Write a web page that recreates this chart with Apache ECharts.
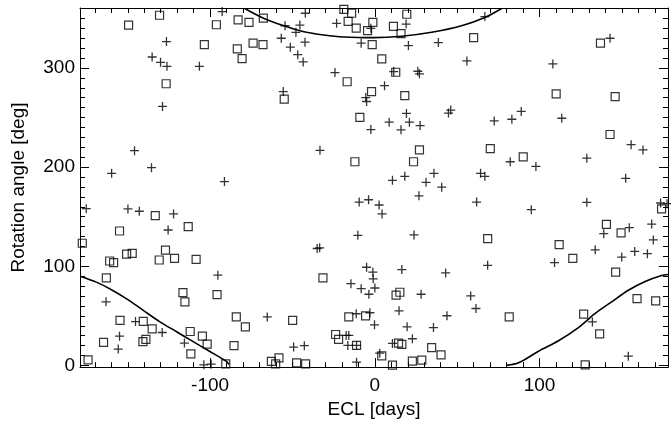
<!DOCTYPE html>
<html>
<head>
<meta charset="utf-8">
<script src="https://cdn.jsdelivr.net/npm/echarts@6/dist/echarts.min.js"></script>
<style>html,body{margin:0;padding:0;background:#fff}#c{width:671px;height:424px}</style>
</head>
<body>
<div id="c"></div>
<script>
// ---- data ----
var squareECL = [-130.7,-149.5,-96.2,-103.5,-126.7,-83.0,-76.4,-67.7,-18.8,-14.1,-16.2,-11.3,-4.4,-1.2,-73.9,-67.9,-83.5,-80.6,-1.6,-16.8,-2.0,-55.0,-9.1,-12.1,19.4,11.3,15.9,60.0,4.2,12.7,18.2,27.1,70.1,23.5,90.1,137.0,110.1,145.9,142.8,-133.3,-155.0,-113.3,-177.6,-127.1,-150.7,-147.3,-161.0,-158.6,-130.9,-121.6,-108.5,-163.0,-116.5,-115.3,-95.8,-154.7,-140.6,-135.2,-112.1,-104.7,-101.8,-164.7,-140.8,-139.0,-111.7,-174.1,-31.5,-84.1,-78.6,-49.9,-15.8,-5.6,-23.8,-22.0,-11.1,-85.5,-62.8,-58.2,-60.2,-47.5,-42.0,-90.5,68.5,12.9,15.2,81.6,14.4,16.4,34.5,40.2,4.2,22.8,28.5,10.7,174.1,140.6,149.5,111.9,120.2,146.2,159.2,170.5,126.8,136.5,127.7];
var squareAngle = [353.2,343.3,343.6,323.6,284.1,348.6,346.0,350.2,359.2,355.2,347.0,340.3,337.6,346.0,325.0,323.6,319.3,309.4,323.6,286.1,276.2,268.5,250.2,205.4,354.2,342.0,334.6,330.6,309.1,295.7,272.2,217.3,218.6,205.4,210.4,325.0,273.8,271.2,232.9,151.1,135.6,139.9,123.2,116.3,112.3,113.0,105.3,103.7,106.3,108.0,107.0,88.3,73.4,64.1,71.4,45.5,44.5,36.9,34.2,29.5,21.5,23.2,23.9,26.2,11.6,5.6,88.3,48.9,38.9,45.5,48.9,49.9,31.2,26.2,20.2,19.9,4.0,7.6,1.6,2.6,1.6,1.6,127.9,70.8,73.8,48.9,22.5,21.2,17.9,10.6,9.6,4.3,5.3,0.3,157.8,142.2,133.6,121.9,108.0,94.0,67.4,65.1,51.8,31.9,0.6];
var plusECL = [-92.7,-126.5,-135.2,-130.1,-126.2,-106.5,-128.9,-145.9,-135.6,-159.8,-91.3,-54.5,-45.5,-47.9,-42.2,-23.2,-2.4,-56.8,-42.4,-51.3,-46.8,-43.5,-8.3,-24.2,-5.5,-5.0,-55.6,-2.4,-33.3,19.0,66.8,20.4,38.6,55.9,11.5,26.1,27.1,5.9,19.2,46.1,44.7,8.7,15.9,21.0,27.5,72.5,83.2,88.9,82.2,10.7,18.2,35.9,31.1,40.6,64.2,66.8,142.8,108.1,113.5,155.6,162.8,97.8,128.7,152.3,-175.2,-149.9,-143.0,-122.2,-125.5,-95.3,-163.2,-145.3,-129.1,-115.6,-155.0,-155.8,-103.8,-99.4,-9.5,-3.8,-10.3,-35.0,-33.5,-5.0,-1.2,-1.0,-14.5,-8.3,-3.6,0.0,-65.3,-11.3,-3.0,-0.2,-15.8,-17.4,-16.4,-11.1,-49.3,-42.8,-11.1,26.8,2.6,4.4,61.8,23.8,68.5,16.4,43.0,28.1,58.2,61.4,14.7,43.8,19.6,35.6,22.8,10.7,3.0,95.0,128.7,173.5,177.4,139.0,154.5,168.1,169.1,133.8,109.1,149.9,157.8,165.5,132.1,153.9];
var plusAngle = [356.9,326.6,311.1,305.7,301.7,301.7,261.2,216.6,199.4,193.7,185.4,342.6,343.3,336.0,355.2,345.0,340.0,330.0,326.0,321.0,313.4,306.1,325.0,295.4,270.2,266.2,276.2,237.9,216.9,344.3,351.9,322.6,325.6,307.1,296.4,296.7,294.1,282.2,254.2,257.5,254.5,245.3,237.6,245.3,241.9,246.6,248.3,256.2,205.4,186.7,190.7,193.7,184.7,179.8,193.7,190.7,330.0,304.1,249.3,222.6,217.3,200.7,209.0,188.7,158.1,157.8,155.5,152.8,136.6,91.0,64.1,44.2,33.2,22.5,29.5,16.5,0.6,1.3,164.8,167.1,131.2,117.9,118.6,99.0,94.0,87.3,82.4,77.4,71.8,78.1,48.9,52.1,53.1,40.9,30.2,30.2,20.2,20.2,18.5,19.9,3.3,171.1,161.8,152.8,164.8,131.6,101.0,96.7,93.3,71.8,70.1,57.4,55.1,50.1,38.9,38.2,26.9,22.2,12.3,157.1,164.5,163.8,163.1,132.9,138.9,142.6,126.6,116.6,103.7,109.3,115.0,112.7,43.9,9.3];
var topCurveECL   = [-79.0,-67.3,-55.2,-43.0,-30.9,-18.8,-0.6,16.4,34.5,52.7,66.8,77.0];
var topCurveAngle = [360.0,350.0,342.6,336.6,333.3,331.3,330.6,332.0,336.0,342.6,350.9,360.0];
var leftCurveECL   = [-179.0,-169.1,-161.0,-150.9,-140.8,-130.7,-120.6,-110.5,-100.4,-90.3,-88.5];
var leftCurveAngle = [90.0,84.0,77.4,67.4,55.8,44.2,34.2,24.2,14.3,4.3,1.0];
var rightCurveECL   = [80.0,87.3,99.4,111.5,123.6,133.8,143.8,153.9,164.1,174.1,178.0];
var rightCurveAngle = [0.0,2.6,14.3,24.9,38.2,52.4,64.1,75.8,84.7,90.7,91.7];
var xMajorTicks = [-100, 0, 100];
var yMajorTicks = [0, 100, 200, 300];
var xRange = [-179, 178];
var yRange = [-1.7, 360.5];

function zip(a, b) { return a.map(function (v, i) { return [v, b[i]]; }); }
var xMinor = [], yMinor = [];
for (var t = -170; t <= 170; t += 10) xMinor.push(t);
for (var u = 0; u <= 360; u += 10) yMinor.push(u);

var FONT = 'Liberation Sans, Arial, Helvetica, sans-serif';
var black = '#000';

function xAx(pos, showLine, ticks, len, labels) {
  return {
    type: 'value', position: pos, min: xRange[0], max: xRange[1],
    axisLine: { show: showLine, onZero: false, lineStyle: { color: black, width: 1 } },
    axisTick: { show: true, inside: true, length: len, customValues: ticks, lineStyle: { color: black, width: 1 } },
    axisLabel: labels ? { show: true, customValues: xMajorTicks, color: black, fontSize: 19, fontFamily: FONT, margin: 9 } : { show: false },
    splitLine: { show: false },
    name: labels ? 'ECL [days]' : '', nameLocation: 'middle', nameGap: 25,
    nameTextStyle: { color: black, fontSize: 19, fontFamily: FONT }
  };
}
function yAx(pos, showLine, ticks, len, labels) {
  return {
    type: 'value', position: pos, min: yRange[0], max: yRange[1],
    axisLine: { show: showLine, onZero: false, lineStyle: { color: black, width: 1 } },
    axisTick: { show: true, inside: true, length: len, customValues: ticks, lineStyle: { color: black, width: 1 } },
    axisLabel: labels ? { show: true, customValues: yMajorTicks, color: black, fontSize: 19, fontFamily: FONT, margin: 5 } : { show: false },
    splitLine: { show: false },
    name: labels ? 'Rotation angle [deg]' : '', nameLocation: 'middle', nameGap: 52,
    nameTextStyle: { color: black, fontSize: 19, fontFamily: FONT }
  };
}

var chart = echarts.init(document.getElementById('c'), null, { renderer: 'canvas' });
chart.setOption({
  animation: false,
  backgroundColor: '#fff',
  grid: { left: 80, right: 3, top: 8, bottom: 52, containLabel: false },
  xAxis: [
    xAx('bottom', true, xMajorTicks, 9, true),
    xAx('top', true, xMajorTicks, 9, false),
    xAx('bottom', false, xMinor, 5, false),
    xAx('top', false, xMinor, 5, false)
  ],
  yAxis: [
    yAx('left', true, yMajorTicks, 9, true),
    yAx('right', true, yMajorTicks, 9, false),
    yAx('left', false, yMinor, 5, false),
    yAx('right', false, yMinor, 5, false)
  ],
  series: [
    { type: 'scatter', data: zip(squareECL, squareAngle), symbol: 'rect', symbolSize: 8,
      itemStyle: { color: 'none', borderColor: '#000', borderWidth: 1.2 }, clip: true, silent: true },
    { type: 'scatter', data: zip(plusECL, plusAngle), symbol: 'path://M5,0L5,10M0,5L10,5', symbolSize: 9,
      itemStyle: { color: 'none', borderColor: '#000', borderWidth: 1.3 }, clip: true, silent: true },
    { type: 'line', data: zip(topCurveECL, topCurveAngle), showSymbol: false, smooth: 0.3, clip: true,
      lineStyle: { color: black, width: 1.6 }, silent: true },
    { type: 'line', data: zip(leftCurveECL, leftCurveAngle), showSymbol: false, smooth: 0.3, clip: true,
      lineStyle: { color: black, width: 1.6 }, silent: true },
    { type: 'line', data: zip(rightCurveECL, rightCurveAngle), showSymbol: false, smooth: 0.3, clip: true,
      lineStyle: { color: black, width: 1.6 }, silent: true }
  ]
});
</script>
</body>
</html>
